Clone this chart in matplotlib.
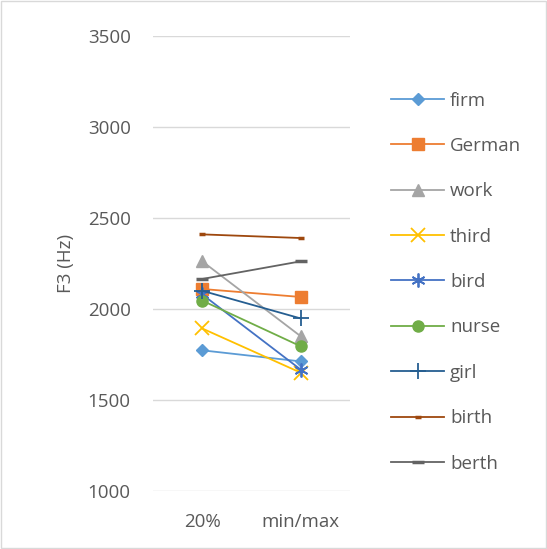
import matplotlib.pyplot as plt
import numpy as np

categories = ["20%", "min/max"]
words = ["firm", "German", "work", "third", "bird", "nurse", "girl", "birth", "berth"]
values = {
    "firm": [1773, 1712],
    "German": [2110, 2066],
    "work": [2262, 1850],
    "third": [1893, 1650],
    "bird": [2080, 1667],
    "nurse": [2046, 1795],
    "girl": [2100, 1948],
    "birth": [2410, 2390],
    "berth": [2165, 2262],
}
colors = ["#5B9BD5", "#ED7D31", "#A5A5A5", "#FFC000", "#4472C4",
          "#70AD47", "#255E91", "#9E480E", "#636363"]
markers = ["D", "s", "^", "x", (6, 2, 0), "o", "+", "_", "_"]
msizes = [6.5, 8, 9, 10, 10, 8, 11, 5, 8]

plt.rcParams['font.family'] = ['Open Sans', 'DejaVu Sans']
txt = '#595959'
fs = 13.5

fig = plt.figure(figsize=(5.47, 5.49), dpi=100)
ax = fig.add_axes([153 / 547, 1 - 491 / 549, 197 / 547, 455 / 549])

x = np.arange(len(categories))
for w, c, m, ms in zip(words, colors, markers, msizes):
    thin = m in ["x", "+", (6, 2, 0)]
    ax.plot(x, values[w], color=c, marker=m, markersize=ms, linewidth=1.3,
            markeredgewidth=1.3 if thin else 2.5 if m == "_" else 1.0,
            label=w)

ax.set_xlim(-0.5, 1.5)
ax.set_ylim(1000, 3500)
ax.set_yticks(range(1000, 3501, 500))
ax.set_xticks(x)
ax.set_xticklabels(categories)
ax.grid(axis='y', color='#D9D9D9', linewidth=1)
ax.set_axisbelow(True)
for s in ax.spines.values():
    s.set_visible(False)
ax.tick_params(length=0, labelsize=fs, labelcolor=txt, pad=16)
ax.set_ylabel("F3 (Hz)", fontsize=fs, color=txt, labelpad=9)

fig.legend(loc='upper left', bbox_to_anchor=(0.684, 0.864), frameon=False,
           fontsize=fs, labelcolor=txt, labelspacing=1.46,
           handlelength=2.83, handletextpad=0.32, borderpad=0.4)

fig.patches.append(plt.Rectangle((0.002, 0.002), 0.996, 0.996, transform=fig.transFigure,
                                 fill=False, edgecolor='#D9D9D9', linewidth=1))

fig.savefig("out.png", dpi=100)
